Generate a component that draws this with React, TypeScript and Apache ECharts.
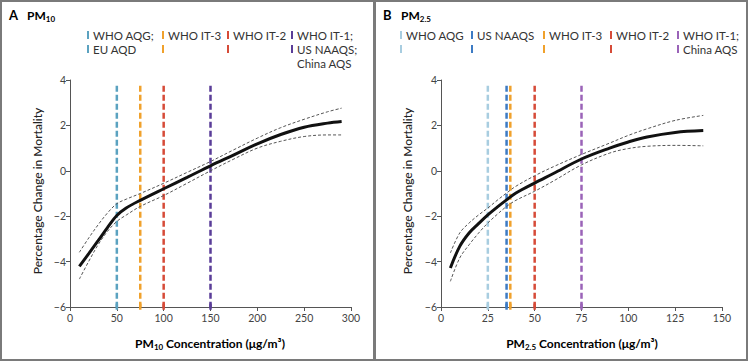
import React, { useEffect, useRef } from "react";
import * as echarts from "echarts";

// ---- Panel A: PM10 ----
const pm10X = [10, 20, 30, 40, 50, 60, 75, 100, 125, 150, 175, 200, 225, 250, 275, 290];
const pm10Est = [-4.21, -3.65, -3.08, -2.5, -1.97, -1.64, -1.3, -0.79, -0.29, 0.22, 0.7, 1.19, 1.6, 1.92, 2.1, 2.17];
const pm10Upper = [-3.59, -2.96, -2.38, -1.86, -1.45, -1.25, -1.0, -0.55, -0.07, 0.41, 0.93, 1.44, 1.9, 2.27, 2.6, 2.76];
const pm10Lower = [-4.77, -3.99, -3.26, -2.67, -2.23, -1.95, -1.57, -1.09, -0.55, 0.0, 0.52, 1.0, 1.3, 1.51, 1.58, 1.58];
const pm10Thresholds = [50, 75, 100, 150];
const pm10Legend = [["WHO AQG;", "EU AQD"], ["WHO IT-3"], ["WHO IT-2"], ["WHO IT-1;", "US NAAQS;", "China AQS"]];

// ---- Panel B: PM2.5 ----
const pm25X = [5, 10, 15, 20, 25, 30, 35, 40, 50, 60, 75, 90, 100, 110, 125, 140];
const pm25Est = [-4.28, -3.33, -2.74, -2.33, -1.94, -1.6, -1.28, -0.98, -0.54, -0.12, 0.52, 1.0, 1.27, 1.49, 1.69, 1.77];
const pm25Upper = [-3.62, -2.74, -2.3, -1.95, -1.64, -1.3, -0.98, -0.68, -0.22, 0.18, 0.72, 1.22, 1.56, 1.85, 2.22, 2.44];
const pm25Lower = [-4.87, -3.84, -3.26, -2.75, -2.3, -1.92, -1.57, -1.3, -0.9, -0.45, 0.26, 0.78, 0.98, 1.08, 1.12, 1.1];
const pm25Thresholds = [25, 35, 37, 50, 75];
const pm25Legend = [["WHO AQG"], ["US NAAQS"], ["WHO IT-3"], ["WHO IT-2"], ["WHO IT-1;", "China AQS"]];

const lineTop = 3.75;
const lineBottom = -6;

const pm10Colors = ["#5ba2c0", "#f0a12c", "#d64b38", "#5a3d98"];
const pm25Colors = ["#a8cde0", "#3d7bc4", "#f0a12c", "#d64b38", "#9a63b8"];

const FONT = "Lato, 'Open Sans', sans-serif";

function zip(xs: number[], ys: number[]) {
  return xs.map((x, i) => [x, ys[i]]);
}

export default function App() {
  const ref = useRef<HTMLDivElement>(null);
  useEffect(() => {
    const chart = echarts.init(ref.current!, null, { renderer: "svg" });

    const grids = [
      { left: 70, top: 80, width: 281, height: 227 },
      { left: 441, top: 80, width: 281, height: 227 },
    ];
    const axisCommon = {
      axisLine: { onZero: false, lineStyle: { color: "#555", width: 1 } },
      axisTick: { show: true, length: 4, lineStyle: { color: "#555" } },
      axisLabel: { color: "#444", fontSize: 10.5, fontFamily: FONT, margin: 5 },
      splitLine: { show: false },
    };
    const xAxes = [
      { gridIndex: 0, type: "value", min: 0, max: 300, interval: 50, ...axisCommon },
      { gridIndex: 1, type: "value", min: 0, max: 150, interval: 25, ...axisCommon },
    ];
    const yAxes = [0, 1].map((g) => ({
      gridIndex: g, type: "value", min: -6, max: 4, interval: 2, ...axisCommon,
      axisLabel: { ...axisCommon.axisLabel, margin: 4, formatter: (v: number) => (v < 0 ? "\u2212" + Math.abs(v) : String(v)) },
    }));

    const series: any[] = [];
    const addPanel = (g: number, thresholds: number[], colors: string[], xs: number[], est: number[], up: number[], lo: number[]) => {
      thresholds.forEach((t, i) => {
        series.push({
          type: "line", xAxisIndex: g, yAxisIndex: g, symbol: "none", clip: false, silent: true,
          data: [[t, lineTop], [t, lineBottom]],
          lineStyle: { color: colors[i], width: 2.5, type: [6, 3] },
          z: 2,
        });
        series.push({
          type: "line", xAxisIndex: g, yAxisIndex: g, symbol: "none", clip: false, silent: true,
          data: [[t, -5.85], [t, -6.12]],
          lineStyle: { color: colors[i], width: 2.5 },
          z: 2,
        });
      });
      [up, lo].forEach((d) => {
        series.push({
          type: "line", xAxisIndex: g, yAxisIndex: g, symbol: "none", smooth: 0.35,
          data: zip(xs, d), lineStyle: { color: "#555", width: 1, type: [3, 2] }, z: 3,
        });
      });
      series.push({
        type: "line", xAxisIndex: g, yAxisIndex: g, symbol: "none", smooth: 0.35,
        data: zip(xs, est), lineStyle: { color: "#111", width: 3 }, z: 4,
      });
    };
    addPanel(0, pm10Thresholds, pm10Colors, pm10X, pm10Est, pm10Upper, pm10Lower);
    addPanel(1, pm25Thresholds, pm25Colors, pm25X, pm25Est, pm25Upper, pm25Lower);

    const graphic: any[] = [];
    graphic.push({ type: "rect", shape: { x: 1, y: 1, width: 373, height: 359 }, style: { fill: "none", stroke: "#7a7a7a", lineWidth: 2 } });
    graphic.push({ type: "rect", shape: { x: 375, y: 1, width: 372, height: 359 }, style: { fill: "none", stroke: "#7a7a7a", lineWidth: 2 } });

    const rich = {
      b: { fontSize: 12, fontWeight: "bold", fontFamily: FONT, color: "#222", lineHeight: 16, verticalAlign: "middle" },
      s: { fontSize: 8, fontWeight: "bold", fontFamily: FONT, color: "#222", lineHeight: 8, verticalAlign: "bottom" },
      t: { fontSize: 13, fontWeight: "bold", fontFamily: FONT, color: "#222", lineHeight: 16, verticalAlign: "middle" },
    };
    graphic.push({ type: "text", x: 9, y: 15, style: { text: "{t|A}", rich, verticalAlign: "middle" } });
    graphic.push({ type: "text", x: 27, y: 15, style: { text: "{b|PM}{s|10}", rich, verticalAlign: "middle" } });
    graphic.push({ type: "text", x: 383, y: 15, style: { text: "{t|B}", rich, verticalAlign: "middle" } });
    graphic.push({ type: "text", x: 401, y: 15, style: { text: "{b|PM}{s|2.5}", rich, verticalAlign: "middle" } });
    graphic.push({ type: "text", x: 210, y: 343, style: { text: "{b|PM}{s|10}{b| Concentration (\u03bcg/m\u00b3)}", rich, align: "center", verticalAlign: "middle" } });
    graphic.push({ type: "text", x: 582, y: 343, style: { text: "{b|PM}{s|2.5}{b| Concentration (\u03bcg/m\u00b3)}", rich, align: "center", verticalAlign: "middle" } });
    [37, 407].forEach((x) => {
      graphic.push({ type: "text", x, y: 191, rotation: Math.PI / 2, style: { text: "Percentage Change in Mortality", fontSize: 12, fontFamily: FONT, fontWeight: 500, fill: "#222", align: "center", verticalAlign: "middle" } });
    });

    const lineY = [35, 49, 63];
    const addLegend = (markerXs: number[], labels: string[][], colors: string[]) => {
      labels.forEach((lines, i) => {
        [0, 1].forEach((k) => {
          graphic.push({ type: "rect", shape: { x: markerXs[i], y: lineY[k] - 4, width: 2, height: 8 }, style: { fill: colors[i] } });
        });
        lines.forEach((txt, k) => {
          graphic.push({ type: "text", x: markerXs[i] + 6, y: lineY[k], style: { text: txt, fontSize: 11.5, fontFamily: FONT, fill: "#333", verticalAlign: "middle" } });
        });
      });
    };
    addLegend([87, 162, 227, 291], pm10Legend, pm10Colors);
    addLegend([400, 471, 543, 610, 677], pm25Legend, pm25Colors);

    chart.setOption({
      animation: false,
      grid: grids,
      xAxis: xAxes,
      yAxis: yAxes,
      series,
      graphic,
    });
    return () => chart.dispose();
  }, []);
  return <div ref={ref} style={{ position: "absolute", left: 0, top: 0, width: 750, height: 364, background: "#fff" }} />;
}
